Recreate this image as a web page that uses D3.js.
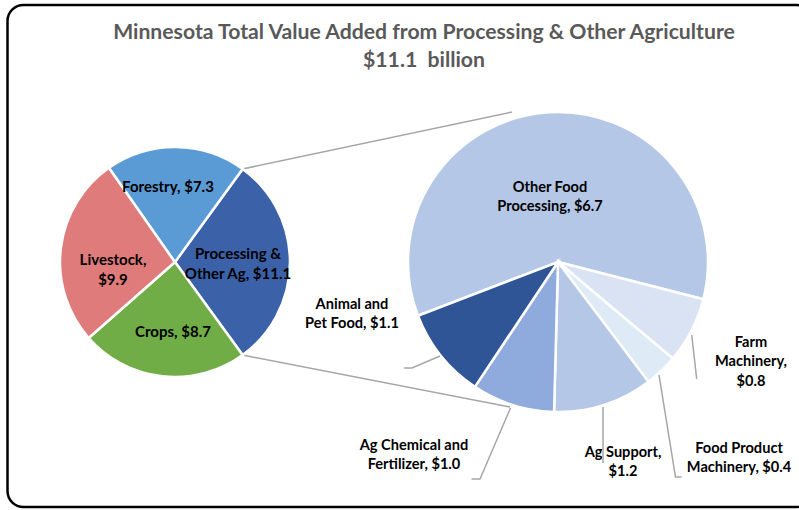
<!DOCTYPE html>
<html>
<head>
    <meta charset="utf-8">
    <script src="https://d3js.org/d3.v7.min.js"></script>
    <style>
        body { margin: 0; background: #fff; }
        text { font-family: Lato, "Open Sans", sans-serif; font-weight: bold; fill: #000; }
    </style>
</head>
<body>
    <svg id="chart" width="799" height="510"></svg>
    <script>
        // left pie: all Minnesota ag value added ($ billion)
        var mainNames = ["Processing &\nOther Ag", "Crops", "Livestock", "Forestry"];
        var mainValues = [11.1, 8.7, 9.9, 7.3];
        var mainColors = ["#3b62a9", "#70ad47", "#e07b7b", "#5b9bd5"];

        // right pie: breakdown of processing & other ag
        var subNames = ["Other Food\nProcessing", "Farm\nMachinery,", "Food Product\nMachinery", "Ag Support,", "Ag Chemical and\nFertilizer", "Animal and\nPet Food"];
        var subValues = [6.7, 0.8, 0.4, 1.2, 1.0, 1.1];
        var subColors = ["#b4c7e7", "#dae3f3", "#deebf7", "#b4c7e7", "#8faadc", "#2f5597"];

        var svg = d3.select("#chart");
        var rad = Math.PI / 180;

        // frame
        svg.append("rect")
            .attr("x", 7.5).attr("y", 5)
            .attr("width", 805).attr("height", 502)
            .attr("rx", 16)
            .attr("fill", "none")
            .attr("stroke", "#000")
            .attr("stroke-width", 2.5);

        svg.append("text")
            .attr("x", 424).attr("y", 39)
            .attr("text-anchor", "middle")
            .style("font-size", "21.2px")
            .style("fill", "#595959")
            .text("Minnesota Total Value Added from Processing & Other Agriculture");
        svg.append("text")
            .attr("x", 424).attr("y", 67)
            .attr("text-anchor", "middle")
            .style("font-size", "21.2px")
            .style("fill", "#595959")
            .attr("xml:space", "preserve")
            .text("$11.1  billion");

        var L = { cx: 175, cy: 262, r: 115 };
        var R = { cx: 558, cy: 262, r: 150 };

        // processing slice centred on the right side
        var procSpan = 360 * mainValues[0] / d3.sum(mainValues);
        var pieMain = d3.pie().sort(null)
            .startAngle((90 - procSpan / 2) * rad)
            .endAngle((450 - procSpan / 2) * rad);
        var arcsMain = pieMain(mainValues);

        var subStart = 249;
        var pieSub = d3.pie().sort(null)
            .startAngle(subStart * rad)
            .endAngle((subStart + 360) * rad);
        var arcsSub = pieSub(subValues);

        function pt(c, r, a) {
            return [c.cx + r * Math.sin(a), c.cy - r * Math.cos(a)];
        }

        // connector lines between pies
        var top0 = pt(L, L.r, arcsMain[0].startAngle);
        var bot0 = pt(L, L.r, arcsMain[0].endAngle);
        svg.append("line")
            .attr("x1", top0[0]).attr("y1", top0[1])
            .attr("x2", 512).attr("y2", 112)
            .attr("stroke", "#a6a6a6").attr("stroke-width", 1.5);
        svg.append("line")
            .attr("x1", bot0[0]).attr("y1", bot0[1])
            .attr("x2", 510).attr("y2", 407)
            .attr("stroke", "#a6a6a6").attr("stroke-width", 1.5);

        var arcL = d3.arc().innerRadius(0).outerRadius(L.r);
        svg.append("g")
            .attr("transform", "translate(" + L.cx + "," + L.cy + ")")
            .selectAll("path")
            .data(arcsMain)
            .enter()
            .append("path")
            .attr("d", arcL)
            .attr("fill", (d, i) => mainColors[i])
            .attr("stroke", "#fff")
            .attr("stroke-width", 2.5);

        var arcR = d3.arc().innerRadius(0).outerRadius(R.r);
        svg.append("g")
            .attr("transform", "translate(" + R.cx + "," + R.cy + ")")
            .selectAll("path")
            .data(arcsSub)
            .enter()
            .append("path")
            .attr("d", arcR)
            .attr("fill", (d, i) => subColors[i])
            .attr("stroke", "#fff")
            .attr("stroke-width", 2.5);

        // label helper, lines split on \n
        function label(x, y, lines, size) {
            var t = svg.append("text")
                .attr("x", x).attr("y", y)
                .attr("text-anchor", "middle")
                .style("font-size", size + "px");
            lines.forEach(function (s, i) {
                t.append("tspan").attr("x", x).attr("dy", i == 0 ? 0 : "1.32em").text(s);
            });
        }

        // left pie labels
        var mainPos = [[238, 259], [173, 337], [113, 265], [168, 192]];
        mainNames.forEach(function (n, i) {
            var lines = n.split("\n");
            var v = "$" + mainValues[i].toFixed(1);
            if (i == 2) { lines = [n + ",", v]; }
            else { lines[lines.length - 1] += ", " + v; }
            label(mainPos[i][0], mainPos[i][1], lines, 15);
        });

        // right pie labels
        var subPos = [[550, 192], [751, 347], [739, 453], [623, 457], [414, 450], [352, 309]];
        subNames.forEach(function (n, i) {
            var lines = n.split("\n");
            var v = "$" + subValues[i].toFixed(1);
            if (i == 1 || i == 3) { lines.push(v); }
            else { lines[lines.length - 1] += ", " + v; }
            label(subPos[i][0], subPos[i][1], lines, 14.6);
        });

        // leader lines for outside labels
        var leaders = [
            [1, [[691.7, 335], [696.7, 379]]],
            [2, [[659, 375], [675.5, 477], [681.5, 477]]],
            [3, [[603, 407], [603, 463]]],
            [4, [[510.5, 408], [480, 479], [471.5, 479]]],
            [5, [[440, 356], [412, 368], [404, 368]]]
        ];
        leaders.forEach(function (l) {
            svg.append("path")
                .attr("d", d3.line()(l[1]))
                .attr("fill", "none")
                .attr("stroke", "#a6a6a6")
                .attr("stroke-width", 1.5);
        });
    </script>
</body>
</html>
